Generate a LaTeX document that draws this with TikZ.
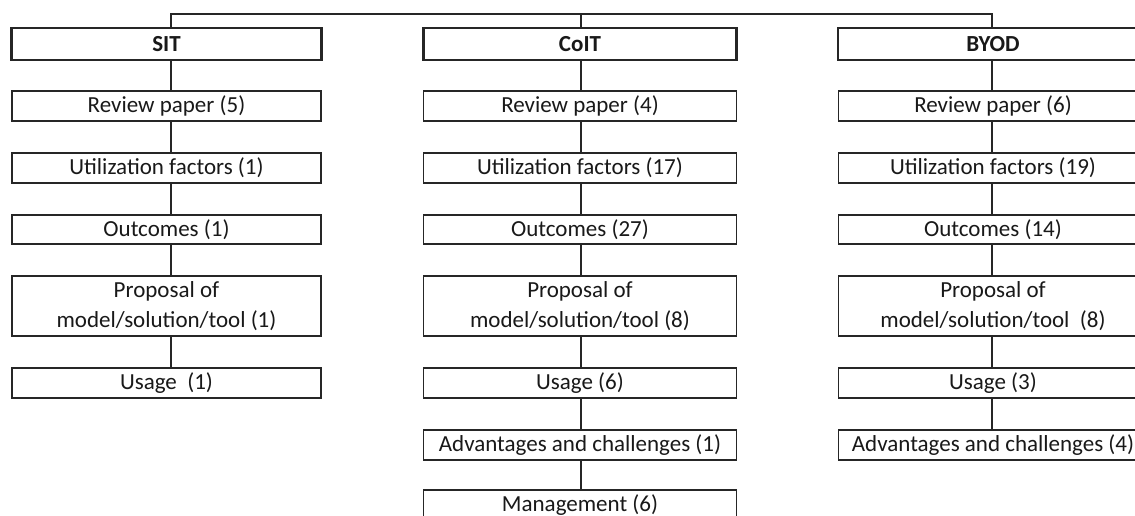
\documentclass[tikz,border=0pt]{standalone}
\usepackage{fontspec}
\setmainfont{Carlito}
\begin{document}
\begin{tikzpicture}[x=1pt,y=-1pt,
  box/.style={draw=black!85,line width=1.3pt,fill=white,inner sep=0pt,align=center,
    font=\fontsize{23}{30}\selectfont,text=black!90},
  head/.style={box,line width=2.6pt,font=\fontsize{23}{30}\selectfont\bfseries},
  conn/.style={draw=black!85,line width=1.3pt}]
\useasboundingbox (0,0) rectangle (1135,516);
\clip (0,0) rectangle (1135,516);
% column connector coordinates
\coordinate (cA) at (171,0);
\coordinate (cB) at (581,0);
\coordinate (cC) at (992,0);
\coordinate (top) at (0,14);
% SIT column
\node[head,minimum width=310,minimum height=32] (A0) at (166.5,44) {SIT};
\node[box,minimum width=309,minimum height=30] (A1) at (166.5,106) {Review paper (5)};
\node[box,minimum width=309,minimum height=30] (A2) at (166.5,168) {Utilization factors (1)};
\node[box,minimum width=309,minimum height=29] (A3) at (166.5,229.5) {Outcomes (1)};
\node[box,minimum width=309,minimum height=60] (A4) at (166.5,306) {Proposal of\\model/solution/tool (1)};
\node[box,minimum width=309,minimum height=30] (A5) at (166.5,383) {Usage\ \ (1)};
% CoIT column
\node[head,minimum width=313,minimum height=32] (B0) at (580,44) {CoIT};
\node[box,minimum width=313,minimum height=30] (B1) at (580,106) {Review paper (4)};
\node[box,minimum width=313,minimum height=30] (B2) at (580,168) {Utilization factors (17)};
\node[box,minimum width=313,minimum height=29] (B3) at (580,229.5) {Outcomes (27)};
\node[box,minimum width=313,minimum height=60] (B4) at (580,306) {Proposal of\\model/solution/tool (8)};
\node[box,minimum width=313,minimum height=30] (B5) at (580,383) {Usage (6)};
\node[box,minimum width=313,minimum height=30] (B6) at (580,445) {Advantages and challenges (1)};
\node[box,minimum width=313,minimum height=30] (B7) at (580,505) {Management (6)};
% BYOD column
\node[head,minimum width=310,minimum height=32] (C0) at (993,44) {BYOD};
\node[box,minimum width=309,minimum height=30] (C1) at (993,106) {Review paper (6)};
\node[box,minimum width=309,minimum height=30] (C2) at (993,168) {Utilization factors (19)};
\node[box,minimum width=309,minimum height=29] (C3) at (993,229.5) {Outcomes (14)};
\node[box,minimum width=309,minimum height=60] (C4) at (993,306) {Proposal of\\model/solution/tool\ \ (8)};
\node[box,minimum width=309,minimum height=30] (C5) at (993,383) {Usage (3)};
\node[box,minimum width=309,minimum height=30] (C6) at (993,445) {Advantages and challenges (4)};
% top connector
\draw[conn] (A0.north -| cA) -- (top -| cA) -- (top -| cC) -- (C0.north -| cC);
\draw[conn] (top -| cB) -- (B0.north -| cB);
% vertical connectors
\foreach \c/\col in {A/cA,B/cB,C/cC}{
  \foreach \i/\j in {0/1,1/2,2/3,3/4,4/5}{
    \draw[conn] (\c\i.south -| \col) -- (\c\j.north -| \col);
  }
}
\draw[conn] (B5.south -| cB) -- (B6.north -| cB);
\draw[conn] (B6.south -| cB) -- (B7.north -| cB);
\draw[conn] (C5.south -| cC) -- (C6.north -| cC);
\end{tikzpicture}
\end{document}
